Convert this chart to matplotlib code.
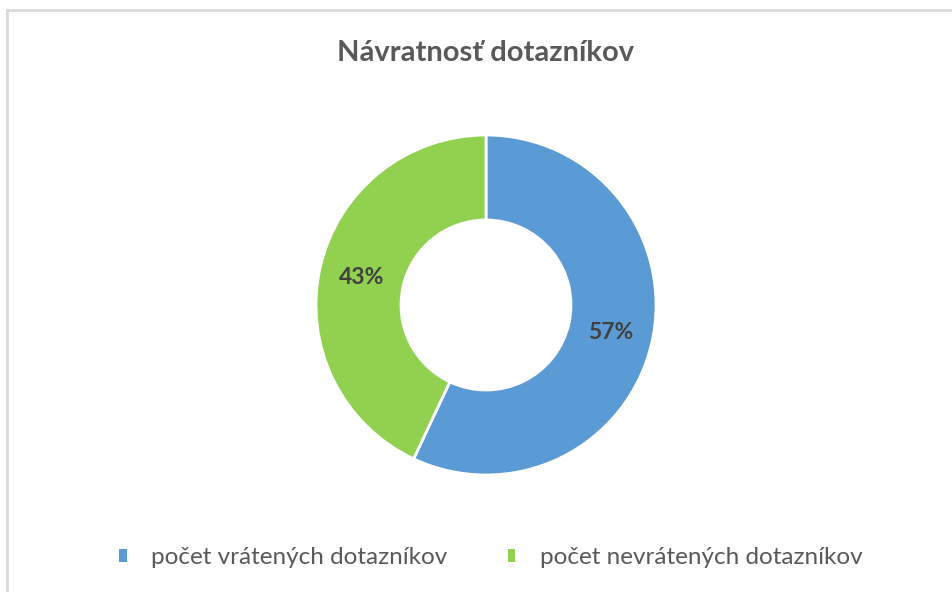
import matplotlib
matplotlib.use("Agg")
import matplotlib.pyplot as plt
from matplotlib.lines import Line2D
from matplotlib.patches import Patch

plt.rcParams["font.family"] = ["Lato", "DejaVu Sans"]

# data
categories = ["počet vrátených dotazníkov", "počet nevrátených dotazníkov"]
values = [57, 43]
colors = ["#5B9BD5", "#92D050"]
title = "Návratnosť dotazníkov"

W, H = 953, 592
fig = plt.figure(figsize=(W / 100, H / 100), dpi=100)
fig.patch.set_facecolor("white")

# donut: centre (486, 305) px, outer radius ~170 px
cx, cy, r = 486, 305, 170
ax = fig.add_axes([(cx - r) / W, (H - cy - r) / H, 2 * r / W, 2 * r / H])
wedges, texts, autotexts = ax.pie(
    values, colors=colors, startangle=90, counterclock=False,
    radius=1.0, autopct="%d%%", pctdistance=0.75,
    wedgeprops=dict(width=0.5, edgecolor="white", linewidth=2),
    textprops=dict(color="#404040", fontsize=16.5, fontweight="bold"))
ax.set_xlim(-1, 1); ax.set_ylim(-1, 1)
ax.set_aspect("equal")
ax.axis("off")

fig.text(cx / W, 1 - 53 / H, title, ha="center", va="center",
         fontsize=21, fontweight="bold", color="#595959")

handles = [Patch(facecolor=c, edgecolor="none") for c in colors]
fig.legend(handles, categories, loc="center", bbox_to_anchor=(0.515, 1 - 558 / H),
           ncol=2, frameon=False, fontsize=17.5, handlelength=0.3, handleheight=0.45,
           handletextpad=1.0, columnspacing=2.5, labelcolor="#595959")

# chart area border (top and left edges visible)
bc = "#d9d9d9"
fig.add_artist(Line2D([7 / W, 7 / W], [0, 1 - 10 / H], color=bc, lw=2))
fig.add_artist(Line2D([7 / W, 1], [1 - 10 / H, 1 - 10 / H], color=bc, lw=2))

fig.savefig("out.png", dpi=100)
